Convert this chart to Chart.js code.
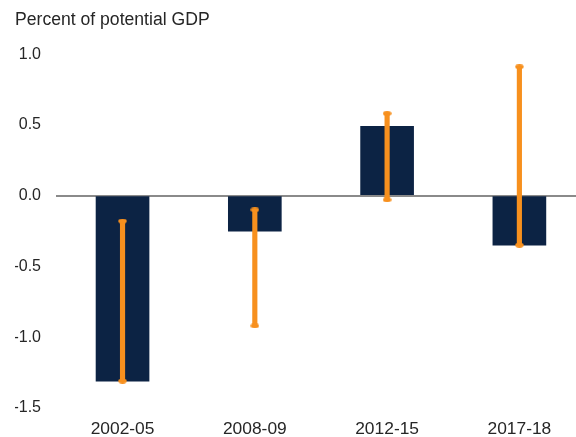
<!DOCTYPE html>
<html>
<head>
<meta charset="utf-8">
<script src="https://cdn.jsdelivr.net/npm/chart.js@4.4.1/dist/chart.umd.min.js"></script>
<style>
html,body{margin:0;padding:0;background:#fff;overflow:hidden;}
#wrap{width:576px;height:437px;position:relative;}
</style>
</head>
<body>
<div id="wrap"><canvas id="c"></canvas></div>
<script>
const categories = ["2002-05", "2008-09", "2012-15", "2017-18"];
const barValues = [-1.31, -0.25, 0.49, -0.35];
const rangeLow = [-1.31, -0.92, -0.03, -0.35];
const rangeHigh = [-0.18, -0.10, 0.58, 0.91];
const yTicks = [-1.5, -1.0, -0.5, 0.0, 0.5, 1.0];

const navy = '#0c2344';
const orange = '#f7901e';
const textColor = '#262626';
const fam = 'Liberation Sans, Arial, sans-serif';

// elliptical end cap marker
const cap = document.createElement('canvas');
cap.width = 9; cap.height = 5;
(function () {
  const g = cap.getContext('2d');
  g.fillStyle = orange;
  g.beginPath();
  g.ellipse(4.5, 2.5, 4.2, 2.4, 0, 0, Math.PI * 2);
  g.fill();
})();

const barData = categories.map((c, i) => ({x: i, y: barValues[i]}));
const rangeData = categories.map((c, i) => ({x: i, y: [rangeLow[i], rangeHigh[i]]}));
const endData = [];
categories.forEach((c, i) => {
  endData.push({x: i, y: rangeLow[i]});
  endData.push({x: i, y: rangeHigh[i]});
});

new Chart(document.getElementById('c'), {
  type: 'bar',
  data: {
    datasets: [
      {label: 'Estimate', data: barData, backgroundColor: navy, barThickness: 53, grouped: false, order: 3},
      {label: 'Range', data: rangeData, backgroundColor: orange, barThickness: 4.5, grouped: false, order: 1},
      {type: 'line', label: 'Ends', data: endData, showLine: false, pointStyle: cap, pointRadius: 4,
       pointBackgroundColor: orange, pointBorderWidth: 0, order: 0}
    ]
  },
  options: {
    responsive: true,
    maintainAspectRatio: false,
    animation: false,
    events: [],
    layout: {autoPadding: false, padding: {left: 15, right: 0, top: 0, bottom: 0}},
    plugins: {
      legend: {display: false},
      tooltip: {enabled: false},
      title: {
        display: true,
        text: 'Percent of potential GDP',
        align: 'start',
        color: textColor,
        font: {family: fam, size: 17.6, weight: 'normal'},
        lineHeight: 1.2,
        padding: {top: 10, bottom: 23}
      }
    },
    scales: {
      x: {
        type: 'linear',
        position: 'bottom',
        offset: false,
        min: -0.503,
        max: 3.428,
        grid: {display: false},
        border: {display: false},
        afterFit: (s) => { s.height = 29; s.paddingLeft = 0; s.paddingRight = 0; },
        afterBuildTicks: (s) => { s.ticks = categories.map((c, i) => ({value: i})); },
        ticks: {
          color: textColor,
          font: {family: fam, size: 17.4},
          padding: 2.5,
          maxRotation: 0,
          autoSkip: false,
          callback: (v) => categories[v] !== undefined ? categories[v] : ''
        }
      },
      y: {
        type: 'linear',
        min: -1.5,
        max: 1.0,
        z: 1,
        afterFit: (s) => { s.width = 41; s.paddingTop = 0; s.paddingBottom = 0; },
        afterBuildTicks: (s) => { s.ticks = yTicks.map(v => ({value: v})); },
        border: {display: false},
        grid: {
          drawTicks: false,
          color: (ctx) => ctx.tick && ctx.tick.value === 0 ? '#8a8a8a' : 'rgba(0,0,0,0)',
          lineWidth: (ctx) => ctx.tick && ctx.tick.value === 0 ? 2 : 0
        },
        ticks: {
          color: textColor,
          font: {family: fam, size: 16},
          padding: 15,
          callback: (v) => Number(v).toFixed(1)
        }
      }
    }
  }
});
</script>
</body>
</html>
